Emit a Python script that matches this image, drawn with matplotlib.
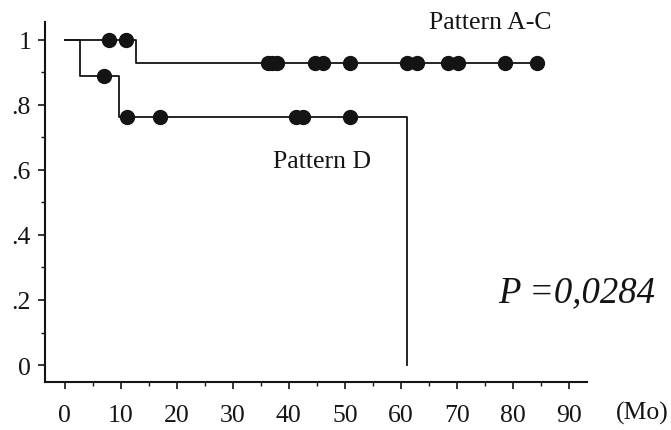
import numpy as np
from matplotlib import pyplot as plt
from matplotlib.ticker import MultipleLocator

# Kaplan-Meier steps (months, survival)
ac_times = [0, 12.8, 84.3]
ac_surv = [1.0, 0.929, 0.929]
ac_censor = [8.0, 11.0, 36.2, 37.0, 37.9, 44.7, 46.1, 50.9, 61.1, 62.9, 68.4, 70.2, 78.5, 84.3]

d_times = [0, 2.8, 9.7, 61.1]
d_surv = [1.0, 0.889, 0.762, 0.0]
d_censor = [7.1, 11.1, 17.0, 41.3, 42.6, 50.9]

x_ticks = [0, 10, 20, 30, 40, 50, 60, 70, 80, 90]
y_ticks = [0, 0.2, 0.4, 0.6, 0.8, 1.0]
y_labels = ["0", ".2", ".4", ".6", ".8", "1"]


def surv_at(times, surv, t):
    # value of the step curve at time t
    i = np.searchsorted(times, t, side="right") - 1
    return surv[i]


def main():
    plt.rcParams["font.family"] = ["Liberation Serif", "DejaVu Serif"]
    fig = plt.figure(figsize=(6.71, 4.31), dpi=100)
    ax = fig.add_axes([45 / 671, 1 - 383 / 431, 542 / 671, 360 / 431])

    ink = "#141414"
    for times, surv, cens in [(ac_times, ac_surv, ac_censor), (d_times, d_surv, d_censor)]:
        ax.step(times, surv, where="post", color=ink, lw=1.3)
        cy = [surv_at(times, surv, t) for t in cens]
        ax.plot(cens, cy, "o", color=ink, ms=10, mec=ink)

    ax.set_xlim(-3.5, 93.2)
    ax.set_ylim(-0.052, 1.054)
    ax.set_xticks(x_ticks)
    ax.xaxis.set_minor_locator(MultipleLocator(5))
    ax.set_yticks(y_ticks, y_labels)
    ax.yaxis.set_minor_locator(MultipleLocator(0.1))

    ax.spines["top"].set_visible(False)
    ax.spines["right"].set_visible(False)
    for s in ["left", "bottom"]:
        ax.spines[s].set_linewidth(1.5)
        ax.spines[s].set_color(ink)
    ax.tick_params(which="major", length=5, width=1.2, colors=ink, labelsize=18.5)
    ax.tick_params(axis="x", which="major", pad=11)
    ax.tick_params(axis="y", which="major", pad=5)
    ax.tick_params(which="minor", length=3, width=1.0, colors=ink)

    ax.text(76.0, 1.055, "Pattern A-C", ha="center", va="center", fontsize=18.5, color=ink)
    ax.text(45.9, 0.628, "Pattern D", ha="center", va="center", fontsize=18.5, color=ink)
    ax.text(105.4, 0.226, "P =0,0284", ha="right", va="center", fontsize=26.5,
            style="italic", color=ink, clip_on=False)
    fig.text(642 / 671, 1 - 413 / 431, "(Mo)", ha="center", va="center", fontsize=18.5, color=ink)

    fig.savefig("out.png", dpi=100)


if __name__ == "__main__":
    main()
